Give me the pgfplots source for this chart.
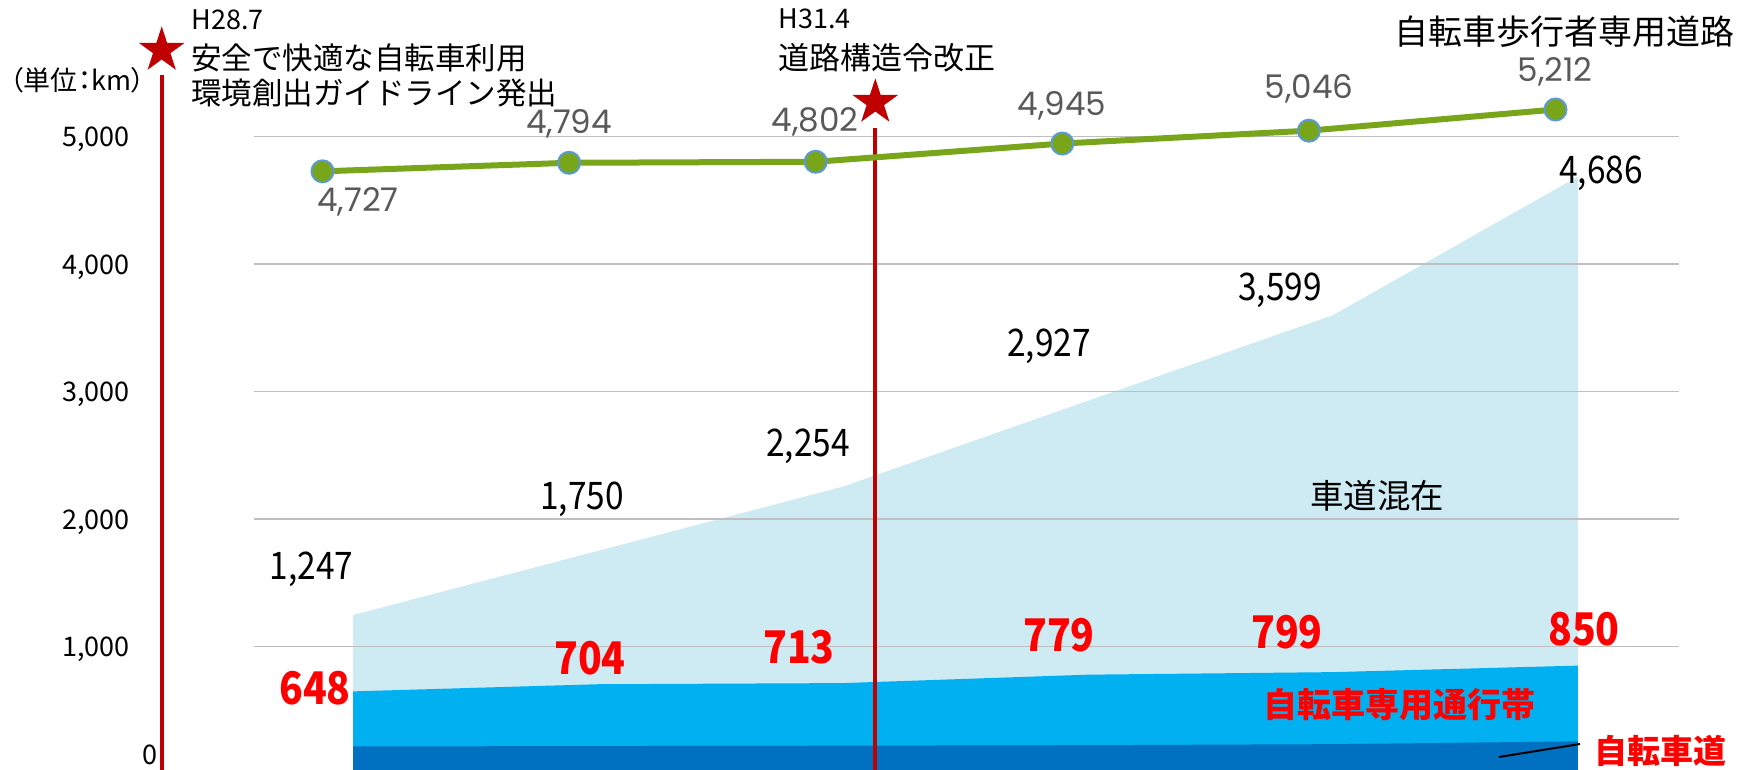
\documentclass[border=0pt]{standalone}
\usepackage{fontspec}
\setmainfont{Noto Sans CJK JP}
\newfontfamily\jpp[RawFeature=+palt]{Noto Sans CJK JP}
\newfontfamily\jpn[FakeStretch=0.88]{Noto Sans CJK JP}
\newfontfamily\jpr[FakeStretch=0.87]{Noto Sans CJK JP}
\newfontfamily\pop{Poppins}
\usepackage{pgfplots}
\pgfplotsset{compat=1.18}
\newcommand\fs[1]{\fontsize{#1pt}{#1pt}\selectfont}
\definecolor{lb}{RGB}{206,234,243}
\definecolor{mb}{RGB}{0,176,240}
\definecolor{db}{RGB}{0,112,192}
\definecolor{gl}{RGB}{121,165,27}
\definecolor{mk}{RGB}{91,155,213}
\definecolor{dr}{RGB}{192,0,0}
\definecolor{rt}{RGB}{255,0,0}
\definecolor{gt}{RGB}{89,89,89}
\definecolor{gr}{RGB}{191,191,191}
\pgfdeclareplotmark{fstar}{%
  \pgfpathmoveto{\pgfpointpolar{90}{\pgfplotmarksize}}%
  \pgfpathlineto{\pgfpointpolar{126}{0.382\pgfplotmarksize}}%
  \pgfpathlineto{\pgfpointpolar{162}{\pgfplotmarksize}}%
  \pgfpathlineto{\pgfpointpolar{198}{0.382\pgfplotmarksize}}%
  \pgfpathlineto{\pgfpointpolar{234}{\pgfplotmarksize}}%
  \pgfpathlineto{\pgfpointpolar{270}{0.382\pgfplotmarksize}}%
  \pgfpathlineto{\pgfpointpolar{306}{\pgfplotmarksize}}%
  \pgfpathlineto{\pgfpointpolar{342}{0.382\pgfplotmarksize}}%
  \pgfpathlineto{\pgfpointpolar{18}{\pgfplotmarksize}}%
  \pgfpathlineto{\pgfpointpolar{54}{0.382\pgfplotmarksize}}%
  \pgfpathclose\pgfusepathqfill}
\begin{document}
\begin{tikzpicture}
\begin{axis}[
  at={(0,0)}, anchor=south west,
  scale only axis, width=712.5pt, height=385pt,
  xmin=-0.2778, xmax=5.5008, ymin=31.4, ymax=6071,
  clip=false, set layers,
  axis line style={draw=none}, tick style={draw=none},
  major tick length=0pt,
  xtick=\empty,
  ytick={1000,2000,3000,4000,5000},
  yticklabels={{1,000},{2,000},{3,000},{4,000},{5,000}},
  ymajorgrids, grid style={gr, line width=0.9pt},
  yticklabel style={anchor=east, inner sep=0pt, xshift=-62pt, yshift=-1.5pt, font=\fs{13.5}},
]
% 車道混在 (light), 自転車専用通行帯 (medium), 自転車道 (dark)
\addplot[on layer=axis background, fill=lb, draw=none] coordinates
  {(0.124,1247)(1.117,1750)(2.111,2254)(3.104,2927)(4.098,3599)(5.091,4686)} \closedcycle;
\addplot[on layer=axis background, fill=mb, draw=none] coordinates
  {(0.124,648)(1.117,704)(2.111,713)(3.104,779)(4.098,799)(5.091,850)} \closedcycle;
\addplot[on layer=axis background, fill=db, draw=none] coordinates
  {(0.124,216)(1.117,219)(2.111,222)(3.104,226)(4.098,234)(5.091,256)} \closedcycle;
% event lines and stars
\addplot[dr, line width=2pt] coordinates {(-0.652,5482)(-0.652,-300)};
\addplot[dr, line width=2pt] coordinates {(2.2417,5067)(2.2417,-300)};
\addplot[only marks, mark=fstar, mark size=12pt, dr] coordinates {(-0.652,5676)};
\addplot[only marks, mark=fstar, mark size=12pt, dr] coordinates {(2.2417,5268)};
% 自転車歩行者専用道路
\addplot[gl, line width=3pt, mark=*, mark size=5.5pt,
  mark options={fill=gl, draw=mk, line width=1pt}] coordinates
  {(0,4727)(1,4794)(2,4802)(3,4945)(4,5046)(5,5212)};
\end{axis}
\begin{scope}[x=0.5pt,y=-0.5pt,shift={(-127pt,385pt)}]
  \tikzset{every node/.style={inner sep=0pt}}
  \node[anchor=west] at (191,20) {\fs{13.5}H28.7};
  \node[anchor=west] at (191,57.5) {\fs{15.25}安全で快適な自転車利用};
  \node[anchor=west] at (191,93) {\fs{15.25}環境創出ガイドライン発出};
  \node[anchor=west] at (10,80) {\jpp\fs{13.5}（単位：km）};
  \node[anchor=west] at (778,19) {\fs{13.5}H31.4};
  \node[anchor=west] at (778,58) {\fs{15.5}道路構造令改正};
  \node[anchor=east] at (1735,32) {\fs{17}自転車歩行者専用道路};
  \node[anchor=east] at (158,755) {\fs{13.5}0};
  % gray line labels
  \node[text=gt] at (358,202) {\pop\fs{16.3}4,727};
  \node[text=gt] at (569,124) {\pop\fs{16.3}4,794};
  \node[text=gt] at (815,122) {\pop\fs{16.3}4,802};
  \node[text=gt] at (1062,106) {\pop\fs{16.3}4,945};
  \node[text=gt] at (1309,89) {\pop\fs{16.3}5,046};
  \node[text=gt] at (1555,72) {\pop\fs{16.3}5,212};
  % black labels
  \node at (311.5,569) {\jpn\fs{19}1,247};
  \node at (582,499) {\jpn\fs{19}1,750};
  \node at (808,446) {\jpn\fs{19}2,254};
  \node at (1049,346) {\jpn\fs{19}2,927};
  \node at (1280,290) {\jpn\fs{19}3,599};
  \node at (1601,173) {\jpn\fs{19}4,686};
  \node at (1377,496) {\fs{16.75}車道混在};
  % red labels
  \node[text=rt] at (315,688) {\jpr\bfseries\fs{22.5}648};
  \node[text=rt] at (590,658) {\jpr\bfseries\fs{22.5}704};
  \node[text=rt] at (799,647) {\jpr\bfseries\fs{22.5}713};
  \node[text=rt] at (1059,635) {\jpr\bfseries\fs{22.5}779};
  \node[text=rt] at (1287,632) {\jpr\bfseries\fs{22.5}799};
  \node[text=rt] at (1584,629) {\jpr\bfseries\fs{22.5}850};
  \node[text=rt] at (1399,705) {\bfseries\fs{17}自転車専用通行帯};
  \node[text=rt] at (1660,751) {\bfseries\fs{16.5}自転車道};
  \draw[black, line width=1pt] (1499,757) -- (1580,744);
\end{scope}
\pgfresetboundingbox
\path[use as bounding box] (-127pt,0pt) rectangle (746.5pt,385pt);
\end{tikzpicture}
\end{document}
